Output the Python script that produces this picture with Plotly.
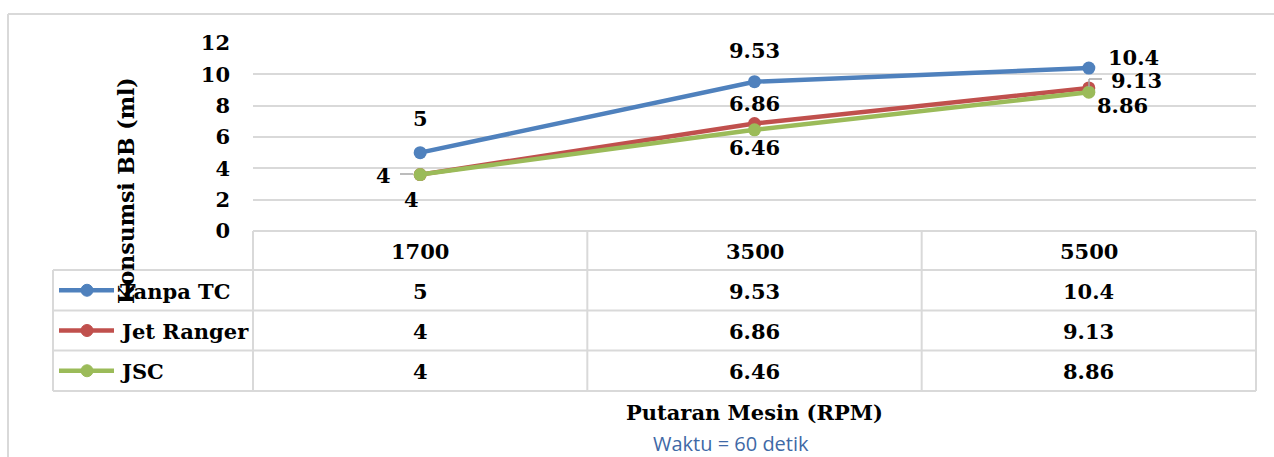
import plotly.graph_objects as go

# ---------------- data ----------------
categories = ["1700", "3500", "5500"]
series_names = ["Tanpa TC", "Jet Ranger", "JSC"]
tanpa_tc = [5, 9.53, 10.4]
jet_ranger = [3.6, 6.86, 9.13]
jsc = [3.6, 6.46, 8.86]
tanpa_tc_labels = ["5", "9.53", "10.4"]
jet_ranger_labels = ["4", "6.86", "9.13"]
jsc_labels = ["4", "6.46", "8.86"]
y_ticks = [0, 2, 4, 6, 8, 10, 12]

colors = ["#4F81BD", "#C0504D", "#9BBB59"]
values = [tanpa_tc, jet_ranger, jsc]
labels = [tanpa_tc_labels, jet_ranger_labels, jsc_labels]

W, H = 1274, 457
SERIF = "DejaVu Serif"
FS = 21
GRID = "#D9D9D9"

# plot area in pixels
PL, PR, PT, PB = 253, 1256, 43, 231

fig = go.Figure()

xs = list(range(len(categories)))
for name, vals, col in zip(series_names, values, colors):
    fig.add_trace(go.Scatter(
        x=xs, y=vals, mode="lines+markers", name=name,
        line=dict(color=col, width=4.5),
        marker=dict(color=col, size=13),
        xaxis="x", yaxis="y", showlegend=False, hoverinfo="skip"))

# data-label offsets (pixels) per series per point: (xshift, yshift)
offsets = [
    [(0, 34), (0, 31), (45, 11)],
    [(-37, -1), (0, 20), (48, 7)],
    [(-9, -25), (0, -18), (34, -13)],
]
annotations = []
for si, (vals, labs) in enumerate(zip(values, labels)):
    for pi, (v, t) in enumerate(zip(vals, labs)):
        dx, dy = offsets[si][pi]
        annotations.append(dict(
            x=xs[pi], y=v, xref="x", yref="y", text=t, showarrow=False,
            xshift=dx, yshift=dy,
            font=dict(family=SERIF, size=FS, color="black", weight="bold")))

# ---------------- pixel overlay ----------------
fig.add_trace(go.Scatter(x=[0], y=[0], mode="markers", marker=dict(opacity=0),
                         xaxis="x2", yaxis="y2", showlegend=False, hoverinfo="skip"))

shapes = []
def pline(x0, y0, x1, y1, color=GRID, width=2):
    shapes.append(dict(type="line", xref="x2", yref="y2", x0=x0, y0=y0, x1=x1, y1=y1,
                       line=dict(color=color, width=width)))

# outer chart border
pline(8, 14, 1280, 14)
pline(8, 14, 8, 460)

# table
col_w = (PR - PL) / len(categories)
row_tops = [231, 270, 310.5, 350.5, 391]
LEG_L = 53
pline(PL, row_tops[0], PR, row_tops[0])
for r in row_tops[1:]:
    pline(LEG_L, r, PR, r)
for i in range(len(categories) + 1):
    pline(PL + i * col_w, row_tops[0], PL + i * col_w, row_tops[-1])
pline(LEG_L, row_tops[1], LEG_L, row_tops[-1])

def cell_cy(r):
    return (row_tops[r] + row_tops[r + 1]) / 2

for ci, cat in enumerate(categories):
    cx = PL + (ci + 0.5) * col_w
    annotations.append(dict(x=cx, y=cell_cy(0) + 1, xref="x2", yref="y2", text=cat,
                            showarrow=False,
                            font=dict(family=SERIF, size=FS, color="black", weight="bold")))
    for si, labs in enumerate(labels):
        annotations.append(dict(x=cx, y=cell_cy(si + 1) + 1, xref="x2", yref="y2",
                                text=labs[ci], showarrow=False,
                                font=dict(family=SERIF, size=FS, color="black", weight="bold")))

# legend keys in table
for si, (name, col) in enumerate(zip(series_names, colors)):
    cy = cell_cy(si + 1)
    pline(59, cy, 114, cy, color=col, width=4.5)
    shapes.append(dict(type="circle", xref="x2", yref="y2", x0=81, x1=93, y0=cy - 6, y1=cy + 6,
                       fillcolor=col, line=dict(color=col, width=1)))
    annotations.append(dict(x=118, y=cy + 1, xref="x2", yref="y2", text=name,
                            showarrow=False, xanchor="left",
                            font=dict(family=SERIF, size=FS, color="black", weight="bold")))

# leader lines for labels
pline(400, 174, 413, 174, color="#A6A6A6", width=1.5)
pline(1089, 87, 1089, 79, color="#A6A6A6", width=1.5)
pline(1089, 79, 1102, 79, color="#A6A6A6", width=1.5)

# axis titles
annotations.append(dict(x=126, y=191, xref="x2", yref="y2", text="Konsumsi BB (ml)",
                        showarrow=False, textangle=-90,
                        font=dict(family=SERIF, size=22, color="black", weight="bold")))
annotations.append(dict(x=754, y=412, xref="x2", yref="y2", text="Putaran Mesin (RPM)",
                        showarrow=False,
                        font=dict(family=SERIF, size=FS, color="black", weight="bold")))
annotations.append(dict(x=731, y=443, xref="x2", yref="y2", text="Waktu = 60 detik",
                        showarrow=False,
                        font=dict(family="Open Sans", size=20, color="#3F69A6")))

fig.update_layout(
    template="none",
    width=W, height=H, margin=dict(l=0, r=0, t=0, b=0, pad=0),
    paper_bgcolor="white", plot_bgcolor="rgba(0,0,0,0)",
    xaxis=dict(domain=[PL / W, PR / W], range=[-0.5, len(categories) - 0.5],
               showgrid=False, zeroline=False, showticklabels=False, ticks="",
               showline=False, fixedrange=True, automargin=False),
    yaxis=dict(domain=[1 - PB / H, 1 - PT / H], range=[0, 12], tickvals=y_ticks,
               showgrid=True, gridcolor=GRID, gridwidth=2, zeroline=False,
               showline=False, ticks="", ticklabelstandoff=22, automargin=False,
               tickfont=dict(family=SERIF, size=FS, color="black", weight="bold"),
               fixedrange=True),
    xaxis2=dict(domain=[0, 1], range=[0, W], visible=False, fixedrange=True, anchor="y2",
                automargin=False),
    yaxis2=dict(domain=[0, 1], range=[H, 0], visible=False, fixedrange=True, anchor="x2",
                automargin=False),
    shapes=shapes, annotations=annotations,
)

fig.write_html("out.html", config={"displayModeBar": False},
               post_script="document.body.style.margin='0';")
